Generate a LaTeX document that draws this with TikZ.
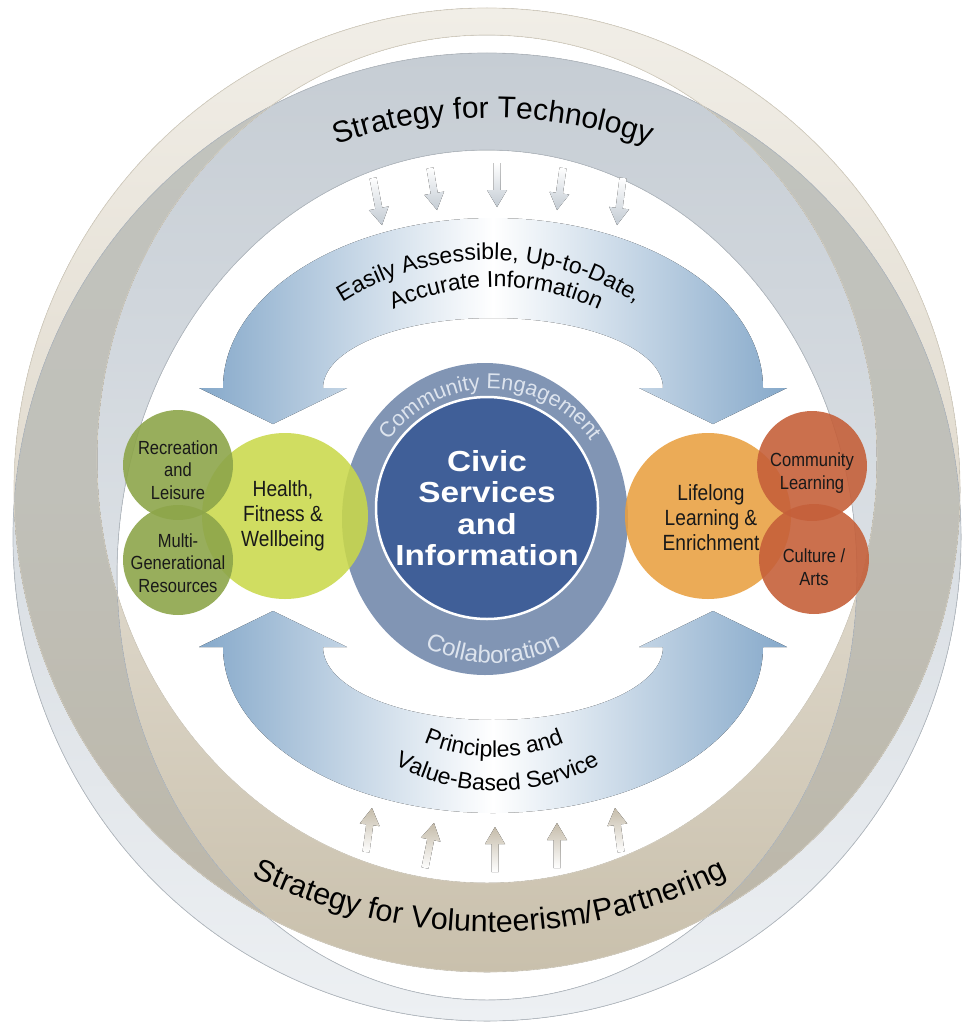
\documentclass[tikz,border=0pt]{standalone}
\usepackage{fontspec}
\setmainfont{Liberation Sans}
\newfontfamily\narrowfont[FakeStretch=0.87]{Liberation Sans}
\newfontfamily\widefont[FakeStretch=1.15]{Liberation Sans}
\usetikzlibrary{
    calc,
    decorations.text,
    positioning
}

\definecolor{techtop}{HTML}{C6CDD4}
\definecolor{techbot}{HTML}{EDF0F3}
\definecolor{techedge}{HTML}{B4BBC2}
\definecolor{voltop}{HTML}{F1EEE7}
\definecolor{volmid}{HTML}{E2DCD0}
\definecolor{volbot}{HTML}{C9C0AC}
\definecolor{voledge}{HTML}{D6D0C2}
\definecolor{bothtop}{HTML}{C2C4BF}
\definecolor{bothmid}{HTML}{C0C0B9}
\definecolor{bothbot}{HTML}{BCB6A7}
\definecolor{archblue}{HTML}{86A9CA}
\definecolor{ringsteel}{HTML}{8195B4}
\definecolor{civicblue}{HTML}{405F98}
\definecolor{cetext}{HTML}{DDE4EE}
\definecolor{healthgreen}{HTML}{C9D84B}
\definecolor{olivegreen}{HTML}{8DA54A}
\definecolor{lifeorange}{HTML}{E89F40}
\definecolor{rust}{HTML}{C5603A}
\definecolor{tipgrey}{HTML}{C3CBD3}
\definecolor{tipbeige}{HTML}{C5BCAA}

\tikzset{
    bigdisc/.style={circle, minimum size=166pt, inner sep=0pt, fill opacity=0.88},
    smalldisc/.style={circle, minimum size=110pt, inner sep=0pt, fill opacity=0.9},
    bigtext/.style={align=center, text=black!90, font=\narrowfont\fontsize{22}{25}\selectfont},
    smalltext/.style={align=center, text=black!90, font=\narrowfont\fontsize{19}{22.5}\selectfont}
}

\begin{document}
\begin{tikzpicture}[x=1pt, y=-1pt]
    \useasboundingbox (0,0) rectangle (965,1025);

    % strategy rings
    \fill[even odd rule, top color=techtop, bottom color=techbot]
        (487,537) ellipse [x radius=474, y radius=484]
        (487,575) ellipse [x radius=370, y radius=425];
    \fill[even odd rule, top color=voltop, bottom color=volbot, middle color=volmid]
        (487,490) ellipse [x radius=473, y radius=482]
        (487,459) ellipse [x radius=390, y radius=424];
    \begin{scope}[even odd rule]
        \clip
            (487,537) ellipse [x radius=474, y radius=484]
            (487,575) ellipse [x radius=370, y radius=425];
        \fill[top color=bothtop, bottom color=bothbot, middle color=bothmid]
            (487,490) ellipse [x radius=473, y radius=482]
            (487,459) ellipse [x radius=390, y radius=424];
    \end{scope}
    \draw[techedge, line width=0.7pt]
        (487,537) ellipse [x radius=474, y radius=484]
        (487,575) ellipse [x radius=370, y radius=425];
    \draw[voledge, line width=0.7pt]
        (487,490) ellipse [x radius=473, y radius=482]
        (487,459) ellipse [x radius=390, y radius=424];

    % blue arches
    \fill[left color=archblue, right color=archblue, middle color=white]
        (223,388) arc[start angle=180, end angle=360, x radius=270, y radius=170]
        -- (787,388) -- (713,424) -- (639,388) -- (663,388)
        arc[start angle=360, end angle=180, x radius=170, y radius=70]
        -- (347,388) -- (273,424) -- (199,388) -- cycle;
    \fill[left color=archblue, right color=archblue, middle color=white]
        (223,647) arc[start angle=180, end angle=0, x radius=270, y radius=166]
        -- (787,647) -- (713,611) -- (639,647) -- (663,647)
        arc[start angle=0, end angle=180, x radius=170, y radius=73]
        -- (347,647) -- (273,611) -- (199,647) -- cycle;

    % small arrows
    \foreach \sx/\sy/\tx/\ty in {373/178/382/225, 430/168/437/210, 497/163/497/207,
                                 563/168/557/210, 623/178/617/225} {
        \coordinate (tail) at (\sx,\sy);
        \coordinate (tip) at (\tx,\ty);
        \coordinate (neck) at ($(tip)!17pt!(tail)$);
        \fill[top color=white, bottom color=tipgrey]
            ($(tail)!3.5pt!90:(tip)$) -- ($(neck)!3.5pt!90:(tip)$) -- ($(neck)!10pt!90:(tip)$)
            -- (tip) -- ($(neck)!10pt!-90:(tip)$) -- ($(neck)!3.5pt!-90:(tip)$)
            -- ($(tail)!3.5pt!-90:(tip)$) -- cycle;
    }
    \foreach \sx/\sy/\tx/\ty in {366/852/372/808, 425/868/434/823, 495/872/495/827,
                                 557/868/557/823, 621/852/615/808} {
        \coordinate (tail) at (\sx,\sy);
        \coordinate (tip) at (\tx,\ty);
        \coordinate (neck) at ($(tip)!17pt!(tail)$);
        \fill[top color=tipbeige, bottom color=white]
            ($(tail)!3.5pt!90:(tip)$) -- ($(neck)!3.5pt!90:(tip)$) -- ($(neck)!10pt!90:(tip)$)
            -- (tip) -- ($(neck)!10pt!-90:(tip)$) -- ($(neck)!3.5pt!-90:(tip)$)
            -- ($(tail)!3.5pt!-90:(tip)$) -- cycle;
    }

    % centre
    \fill[ringsteel] (485,519) ellipse [x radius=143, y radius=156];
    \node[circle, fill=civicblue, draw=white, line width=2.5pt, minimum size=222pt,
        inner sep=0pt, text=white, align=center,
        font=\widefont\bfseries\fontsize{29}{31.5}\selectfont]
        (civic) at (487,508) {Civic\\Services\\and\\Information};

    % service discs
    \node[bigdisc, fill=healthgreen] (health) at (285,516) {};
    \node[smalldisc, fill=olivegreen] (multigen) at (178,560) {};
    \node[smalldisc, fill=olivegreen] (recreation) at (178,465) {};
    \node[bigdisc, fill=lifeorange] (lifelong) at (708,516) {};
    \node[smalldisc, fill=rust] (culture) at (814,559) {};
    \node[smalldisc, fill=rust] (community) at (812,466) {};

    \node[bigtext] (health-text) at ([xshift=-2pt]health.center) {Health,\\Fitness \&\\Wellbeing};
    \node[smalltext] (multigen-text) at ([yshift=-3pt]multigen.center) {Multi-\\Generational\\Resources};
    \node[smalltext] (recreation-text) at ([yshift=-5pt]recreation.center) {Recreation\\and\\Leisure};
    \node[bigtext] (lifelong-text) at ([xshift=3pt, yshift=-2pt]lifelong.center) {Lifelong\\Learning \&\\Enrichment};
    \node[smalltext] (culture-text) at ([yshift=-8pt]culture.center) {Culture /\\Arts};
    \node[smalltext] (community-text) at ([yshift=-7pt]community.center) {Community\\Learning};

    % curved texts
    \path[decorate, decoration={text along path, text align=center,
        text={|\fontsize{30}{30}\selectfont|Strategy for Technology}}]
        (493,588) ++(225:470) arc[start angle=225, end angle=315, radius=470];
    \path[decorate, decoration={text along path, text align=center,
        text={|\fontsize{30.5}{30}\selectfont|Strategy for Volunteerism/Partnering}}]
        (490,397) ++(140:535) arc[start angle=140, end angle=40, radius=535];
    \path[decorate, decoration={text along path, text align=center,
        text={|\fontsize{23}{23}\selectfont|Easily Assessible, Up-to-Date,}}]
        (489,532) ++(210:272) arc[start angle=210, end angle=330, radius=272];
    \path[decorate, decoration={text along path, text align=center,
        text={|\fontsize{23}{23}\selectfont|Accurate Information}}]
        (496,532) ++(210:245) arc[start angle=210, end angle=330, radius=245];
    \path[decorate, decoration={text along path, text align=center,
        text={|\fontsize{23}{23}\selectfont|Principles and}}]
        (494,578) ++(150:179) arc[start angle=150, end angle=30, radius=179];
    \path[decorate, decoration={text along path, text align=center,
        text={|\fontsize{23}{23}\selectfont|Value-Based Service}}]
        (497,578) ++(150:213) arc[start angle=150, end angle=30, radius=213];
    \path[decorate, decoration={text along path, text align=center,
        text={|\color{cetext}\fontsize{21.5}{21}\selectfont|Community Engagement}}]
        (490,514) ++(185:125) arc[start angle=185, end angle=355, radius=125];
    \path[decorate, decoration={text along path, text align=center,
        text={|\color{cetext}\fontsize{24}{24}\selectfont|Collaboration}}]
        (493,512) ++(135:151) arc[start angle=135, end angle=45, radius=151];
\end{tikzpicture}
\end{document}
